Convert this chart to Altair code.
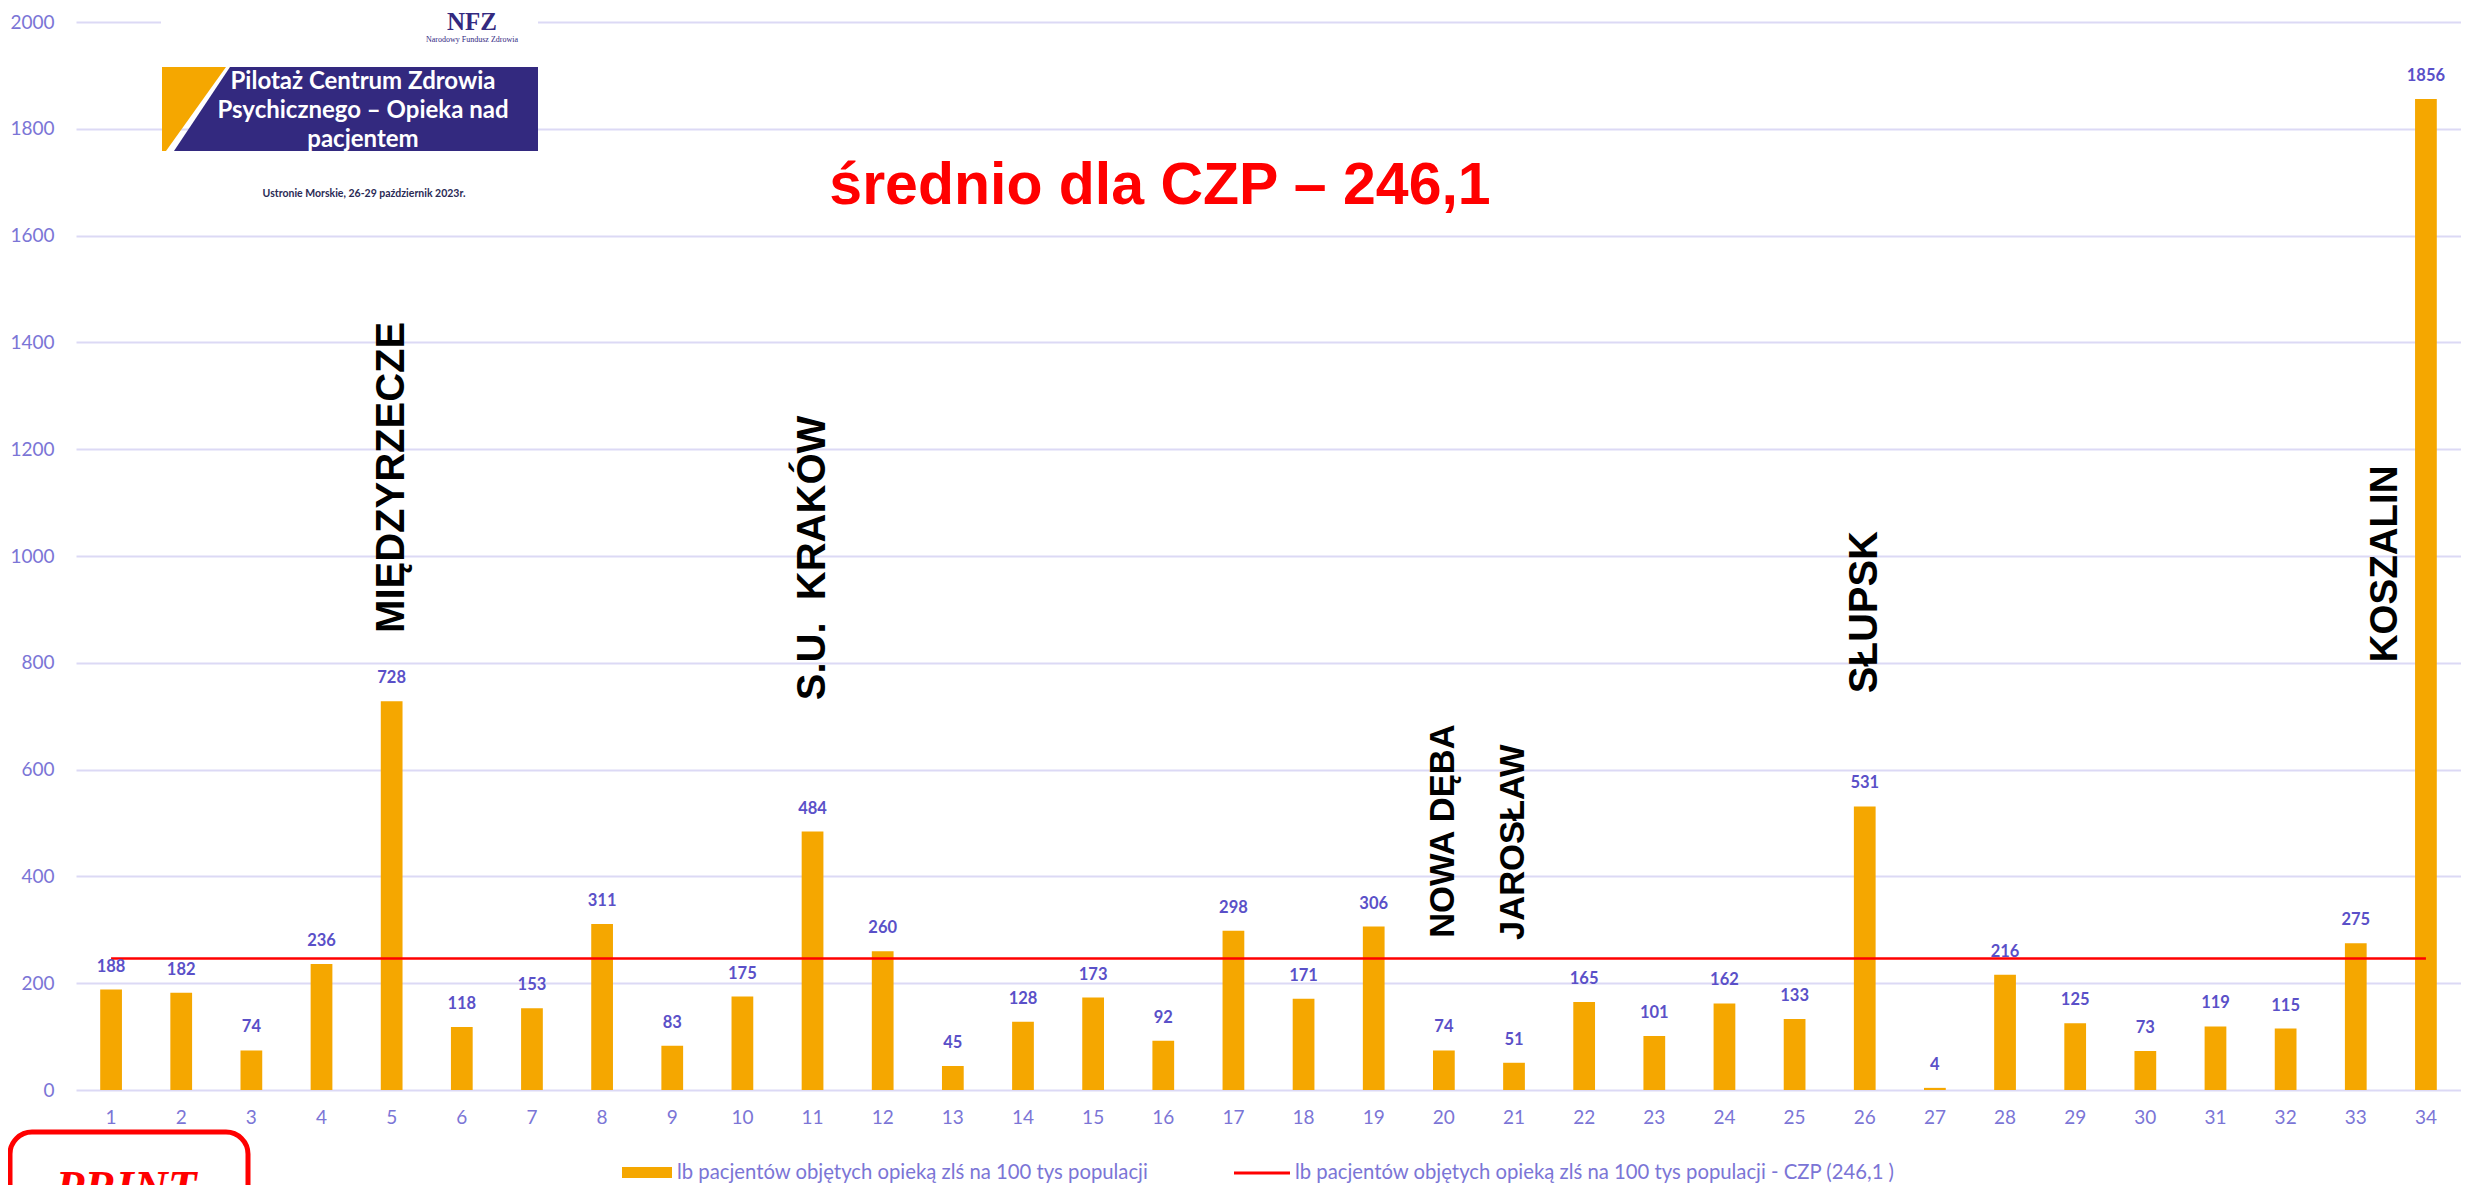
import altair as alt
import pandas as pd

# ---------------- data ----------------
categories = [str(i) for i in range(1, 35)]
values = [188, 182, 74, 236, 728, 118, 153, 311, 83, 175, 484, 260, 45, 128, 173, 92,
          298, 171, 306, 74, 51, 165, 101, 162, 133, 531, 4, 216, 125, 73, 119, 115, 275, 1856]
average = 246.1
y_ticks = [0, 200, 400, 600, 800, 1000, 1200, 1400, 1600, 1800, 2000]

city_names = ["MIĘDZYRZECZE", "S.U.\u00a0\u00a0KRAKÓW", "NOWA DĘBA", "JAROSŁAW", "SŁUPSK", "KOSZALIN"]
city_categories = ["5", "11", "20", "21", "26", "34"]
city_anchor = [856, 730, 285, 281, 743, 801]

title_text = "średnio dla CZP – 246,1"
legend_bar = "lb pacjentów objętych opieką zlś na 100 tys populacji"
legend_line = "lb pacjentów objętych opieką zlś na 100 tys populacji - CZP (246,1 )"
banner_lines = ["Pilotaż Centrum Zdrowia", "Psychicznego – Opieka nad", "pacjentem"]
event_text = "Ustronie Morskie, 26-29 październik 2023r."

# ---------------- styles ----------------
ORANGE = "#f5a700"
NAVY = "#33297f"
LABEL = "#5a50c8"
AXIS = "#7b75d6"
GRID = "#dcd9f5"

W, H = 2385, 1068

df = pd.DataFrame({"cat": categories, "value": values, "avg": [average] * len(values)})
cities = pd.DataFrame({"cat": city_categories, "name": city_names, "anchor": city_anchor})
one = pd.DataFrame({"k": [0]})

x_enc = alt.X("cat:O", sort=categories,
              scale=alt.Scale(paddingInner=0.69, paddingOuter=0.345),
              axis=alt.Axis(title=None, labelAngle=0, labelFont="Lato", labelFontSize=19,
                            labelColor=AXIS, ticks=False, tickSize=0, domain=False,
                            labelPadding=18, grid=False))
y_scale = alt.Scale(domain=[0, 2000], nice=False, zero=True)
y_enc = alt.Y("value:Q", scale=y_scale,
              axis=alt.Axis(title=None, values=y_ticks, format="d", labelFont="Lato",
                            labelFontSize=19, labelColor=AXIS, ticks=False, tickSize=0,
                            domain=False, labelPadding=22, grid=True, gridColor=GRID,
                            gridWidth=2))

base = alt.Chart(df)

bars = base.mark_bar(color=ORANGE).encode(x=x_enc, y=y_enc)
avg_line = base.mark_line(color="#ff0000", strokeWidth=2.5).encode(
    x=alt.X("cat:O", sort=categories), y=alt.Y("avg:Q"))
labels = base.mark_text(font="Lato", fontWeight="bold", fontSize=16.5, color=LABEL,
                        baseline="middle", dy=-23).encode(
    x=alt.X("cat:O", sort=categories), y=alt.Y("value:Q"), text=alt.Text("value:Q"))

city_base = alt.Chart(cities)
city_kw = dict(font="Liberation Sans", fontWeight="bold", color="black", angle=270,
               align="left", baseline="middle")
city_big = city_base.transform_filter(
    alt.FieldOneOfPredicate(field="name", oneOf=["MIĘDZYRZECZE", "S.U.\u00a0\u00a0KRAKÓW", "SŁUPSK"])
).mark_text(fontSize=40, **city_kw).encode(
    x=alt.X("cat:O", sort=categories), xOffset=alt.value(11), y=alt.Y("anchor:Q"),
    text="name:N")
city_small = city_base.transform_filter(
    alt.FieldOneOfPredicate(field="name", oneOf=["NOWA DĘBA", "JAROSŁAW"])
).mark_text(fontSize=34.5, **city_kw).encode(
    x=alt.X("cat:O", sort=categories), xOffset=alt.value(11), y=alt.Y("anchor:Q"),
    text="name:N")
city_kosz = city_base.transform_filter(
    alt.FieldEqualPredicate(field="name", equal="KOSZALIN")
).mark_text(fontSize=38.5, **city_kw).encode(
    x=alt.X("cat:O", sort=categories), xOffset=alt.value(-30), y=alt.Y("anchor:Q"),
    text="name:N")

deco = alt.Chart(one)

# white background behind the logo
logo_bg = deco.mark_rect(color="white").encode(
    x=alt.value(85), x2=alt.value(462), y=alt.value(-14), y2=alt.value(40))
nfz = deco.mark_text(font="Liberation Serif", fontWeight="bold", fontSize=25, color=NAVY,
                     baseline="alphabetic").encode(
    x=alt.value(396), y=alt.value(8), text=alt.value("NFZ"))
nfz_sub = deco.mark_text(font="Liberation Serif", fontSize=8, color=NAVY,
                         baseline="middle").encode(
    x=alt.value(396), y=alt.value(18), text=alt.value("Narodowy Fundusz Zdrowia"))

# banner (custom symbol paths, unit box scaled by sqrt(size)/2)
orange_path = "M -1 -0.2234 L -0.6596 -0.2234 L -0.9787 0.2234 L -1 0.2234 Z"
navy_path = "M -0.6383 -0.2234 L 1 -0.2234 L 1 0.2234 L -0.9362 0.2234 Z"
banner_o = deco.mark_point(shape=orange_path, size=376 * 376, filled=True, color=ORANGE,
                           opacity=1, strokeWidth=0).encode(
    x=alt.value(274), y=alt.value(87))
banner_n = deco.mark_point(shape=navy_path, size=376 * 376, filled=True, color=NAVY,
                           opacity=1, strokeWidth=0).encode(
    x=alt.value(274), y=alt.value(87))
banner_txt = [
    deco.mark_text(font="Lato", fontWeight="bold", fontSize=24, color="white",
                   baseline="alphabetic").encode(
        x=alt.value(287), y=alt.value(yy), text=alt.value(t))
    for t, yy in zip(banner_lines, [67, 96, 125])
]
event = deco.mark_text(font="Lato", fontWeight="bold", fontSize=10.5, color="#2a2a55",
                       baseline="middle").encode(
    x=alt.value(288), y=alt.value(172), text=alt.value(event_text))

title = deco.mark_text(font="Liberation Sans", fontWeight="bold", fontSize=59,
                       color="#ff0000", baseline="alphabetic").encode(
    x=alt.value(1084), y=alt.value(182), text=alt.value(title_text))

# legend
leg_rect = deco.mark_rect(color=ORANGE).encode(
    x=alt.value(546), x2=alt.value(596), y=alt.value(1145), y2=alt.value(1156))
leg_t1 = deco.mark_text(font="Lato", fontSize=20.3, color=AXIS, align="left",
                        baseline="middle").encode(
    x=alt.value(601), y=alt.value(1151), text=alt.value(legend_bar))
leg_rule = deco.mark_rule(color="#ff0000", strokeWidth=3).encode(
    x=alt.value(1158), x2=alt.value(1214), y=alt.value(1151))
leg_t2 = deco.mark_text(font="Lato", fontSize=20.3, color=AXIS, align="left",
                        baseline="middle").encode(
    x=alt.value(1219), y=alt.value(1151), text=alt.value(legend_line))

# PRINT stamp (cut off at the bottom edge, as in the original)
print_box = deco.mark_rect(filled=False, color="#ff0000", strokeWidth=5,
                           cornerRadius=22).encode(
    x=alt.value(-66), x2=alt.value(172), y=alt.value(1110), y2=alt.value(1300))
print_txt = deco.mark_text(font="Liberation Serif", fontWeight="bold", fontStyle="italic",
                           fontSize=47, color="#ff0000", baseline="alphabetic").encode(
    x=alt.value(50), y=alt.value(1181), text=alt.value("PRINT"))

chart = alt.layer(
    bars, logo_bg, avg_line, labels, city_big, city_small, city_kosz,
    nfz, nfz_sub, banner_o, banner_n, *banner_txt, event, title,
    leg_rect, leg_t1, leg_rule, leg_t2, print_box, print_txt
).properties(
    width=W, height=H,
    autosize=alt.AutoSizeParams(type="none"),
    padding={"left": 68, "top": 14, "right": 0, "bottom": 95},
    background="white",
).configure_view(stroke=None)

chart.save("out.html", embed_options={"renderer": "svg", "actions": False})
